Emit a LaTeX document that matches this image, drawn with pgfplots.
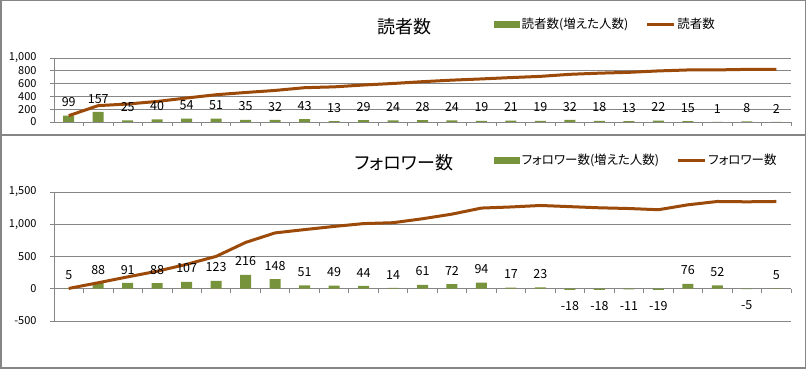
\documentclass[border=0pt]{standalone}
\usepackage{fontspec}
\setmainfont{Noto Sans CJK JP}[RawFeature=+palt]
\usepackage{pgfplots}
\pgfplotsset{compat=1.18}
\definecolor{barg}{RGB}{119,147,60}
\definecolor{linb}{RGB}{156,74,10}
\definecolor{gridc}{RGB}{134,134,134}
\pgfplotsset{
  /pgf/number format/assume math mode=true,
  /pgf/number format/1000 sep={,},
  common/.style={
    scale only axis, width=737pt, xmin=0.5, xmax=25.5,
    axis y line*=left, axis x line*=middle,
    axis line style={-, gridc, line width=0.8pt},
    xtick={0.5,1.5,...,25.5}, xticklabels={},
    xtick align=outside, ytick align=outside,
    major tick length=4pt,
    tick style={gridc, line width=0.8pt},
    ymajorgrids, grid style={gridc, line width=0.8pt},
    yticklabel style={font=\fontsize{11}{12}\selectfont, xshift=-10pt, text=black},
    clip=false,
    legend columns=2,
    legend style={draw=none, fill=none, inner sep=0pt,
      font=\fontsize{12.5}{14}\selectfont,
      /tikz/every even column/.append style={column sep=16pt},
      nodes={inner sep=1.5pt}},
  },
  poslab/.style={forget plot, only marks, mark=none, nodes near coords,
    every node near coord/.style={font=\fontsize{12.5}{14}\selectfont, anchor=south, inner sep=0pt, yshift=8.5pt, text=black}},
  neglab/.style={forget plot, only marks, mark=none, nodes near coords,
    every node near coord/.style={font=\fontsize{12.5}{14}\selectfont, anchor=north, inner sep=0pt, yshift=-11.5pt, text=black}},
  barsty/.style={ybar, bar width=11pt, fill=barg, draw=none,
    legend image code/.code={\fill[barg] (0pt,-3.5pt) rectangle (26pt,3.5pt);}},
  linesty/.style={linb, line width=3pt, mark=none,
    legend image code/.code={\draw[linb, line width=3pt] (0pt,0pt) -- (27pt,0pt);}},
}
\begin{document}
\begin{tikzpicture}[x=1pt,y=1pt]
\useasboundingbox (0,0) rectangle (806,369);
\draw[gridc, line width=1.5pt] (0.75,0.75) rectangle (805.25,368.25);
\draw[gridc, line width=1.2pt] (0,234) -- (806,234);
\node[font=\fontsize{18}{20}\selectfont] at (404pt,342pt) {読者数};
\node[font=\fontsize{18}{20}\selectfont] at (404pt,206pt) {フォロワー数};

\begin{axis}[common, at={(54pt,247pt)}, anchor=south west, height=64pt,
  ymin=0, ymax=1000, ytick={0,200,...,1000},
  legend style={at={(0.597,1.531)}, anchor=west}]
\addplot[barsty] coordinates {(1,99) (2,157) (3,25) (4,40) (5,54) (6,51) (7,35) (8,32) (9,43) (10,13) (11,29) (12,24) (13,28) (14,24) (15,19) (16,21) (17,19) (18,32) (19,18) (20,13) (21,22) (22,15) (23,1) (24,8) (25,2)};
\addlegendentry{読者数(増えた人数)}
\addplot[linesty] coordinates {(1,99) (2,256) (3,281) (4,321) (5,375) (6,426) (7,461) (8,493) (9,536) (10,549) (11,578) (12,602) (13,630) (14,654) (15,673) (16,694) (17,713) (18,745) (19,763) (20,776) (21,798) (22,813) (23,814) (24,822) (25,824)};
\addlegendentry{読者数}
\addplot[poslab] coordinates {(1,99) (2,157) (3,25) (4,40) (5,54) (6,51) (7,35) (8,32) (9,43) (10,13) (11,29) (12,24) (13,28) (14,24) (15,19) (16,21) (17,19) (18,32) (19,18) (20,13) (21,22) (22,15) (23,1) (24,8) (25,2)};
\end{axis}

\begin{axis}[common, at={(54pt,48pt)}, anchor=south west, height=129pt,
  ymin=-500, ymax=1500, ytick={-500,0,500,1000,1500},
  legend style={at={(0.597,1.248)}, anchor=west}]
\addplot[barsty] coordinates {(1,5) (2,88) (3,91) (4,88) (5,107) (6,123) (7,216) (8,148) (9,51) (10,49) (11,44) (12,14) (13,61) (14,72) (15,94) (16,17) (17,23) (18,-18) (19,-18) (20,-11) (21,-19) (22,76) (23,52) (24,-5) (25,5)};
\addlegendentry{フォロワー数(増えた人数)}
\addplot[linesty] coordinates {(1,5) (2,93) (3,184) (4,272) (5,379) (6,502) (7,718) (8,866) (9,917) (10,966) (11,1010) (12,1024) (13,1085) (14,1157) (15,1251) (16,1268) (17,1291) (18,1273) (19,1255) (20,1244) (21,1225) (22,1301) (23,1353) (24,1348) (25,1353)};
\addlegendentry{フォロワー数}
\addplot[poslab] coordinates {(1,5) (2,88) (3,91) (4,88) (5,107) (6,123) (7,216) (8,148) (9,51) (10,49) (11,44) (12,14) (13,61) (14,72) (15,94) (16,17) (17,23) (22,76) (23,52) (25,5)};
\addplot[neglab] coordinates {(18,-18) (19,-18) (20,-11) (21,-19) (24,-5)};
\end{axis}
\end{tikzpicture}
\end{document}
